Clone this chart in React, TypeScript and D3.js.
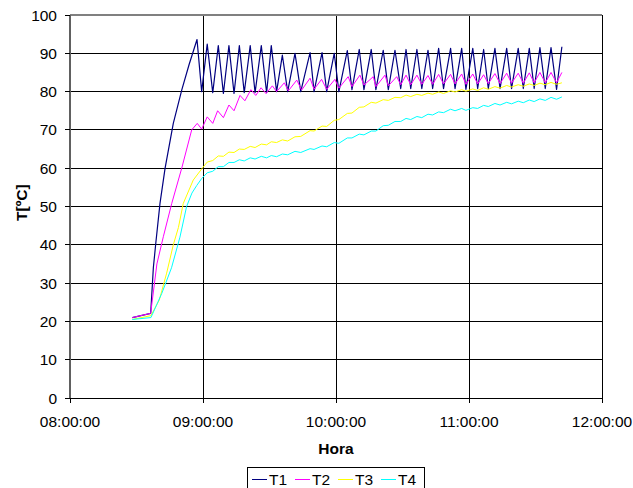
import React from "react";
import * as d3 from "d3";

// Time in minutes after 08:00:00, temperature in °C
const seriesNames = ["T1", "T2", "T3", "T4"];
const seriesColors = ["#000080", "#FF00FF", "#FFFF00", "#00FFFF"];

const xTickMinutes = [0, 60, 120, 180, 240];
const xTickLabels = ["08:00:00", "09:00:00", "10:00:00", "11:00:00", "12:00:00"];
const yTicks = [0, 10, 20, 30, 40, 50, 60, 70, 80, 90, 100];

const t1Time = [28.1, 36.4, 37.6, 38.7, 40.6, 42.9, 46.6, 50.4, 53.7, 57.3,
  59.4, 61.9, 64.4, 66.9, 69.2, 71.7, 74.0, 76.4, 78.6, 81.3, 83.5, 86.3, 88.7, 90.8, 93.2, 95.8, 98.2, 101.5, 104.1, 108.3,
  110.1, 113.7, 115.8, 119.2, 121.3, 125.1, 127.2, 130.5, 132.6, 135.9, 138.0, 141.3, 143.6, 146.6, 149.2, 151.6, 153.7, 156.5, 158.7, 161.5,
  163.6, 166.3, 168.5, 171.7, 173.7, 176.7, 178.6, 181.7, 183.9, 186.6, 188.7, 191.7, 194.0, 197.0, 199.2, 202.2, 204.5, 207.2, 209.4, 212.0,
  214.4, 217.0, 219.5, 221.9];
const t1Value = [21.0, 22.1, 34.0, 40.4, 50.8, 60.0, 71.7, 80.4, 87.0, 93.6,
  80.0, 92.4, 79.7, 92.0, 79.5, 92.0, 79.5, 92.0, 79.7, 92.0, 79.7, 92.0, 79.7, 92.0, 80.0, 89.5, 80.0, 90.0, 80.0, 90.2,
  80.0, 90.2, 80.0, 90.0, 80.0, 90.7, 80.5, 91.0, 80.5, 91.0, 80.5, 90.8, 80.5, 90.8, 80.8, 91.0, 80.8, 91.0, 80.8, 90.8,
  80.8, 91.3, 80.8, 91.3, 80.8, 91.3, 80.6, 91.3, 80.8, 91.0, 80.8, 91.3, 80.8, 91.3, 80.8, 91.3, 80.8, 91.3, 80.8, 91.5,
  80.8, 91.5, 80.6, 91.7];

const t2Time = [28.1, 36.4, 39.2, 42.1, 45.9, 50.4, 54.9, 57.4, 59.4, 61.9, 64.4, 66.6, 69.2, 71.7, 74.0, 76.7, 78.9, 81.6,
  83.8, 86.2, 88.4, 91.3, 93.2, 96.7, 98.5, 102.3, 104.5, 108.3, 110.1, 113.5, 115.8, 119.5, 121.3, 125.5, 127.2, 130.8,
  132.6, 136.8, 138.0, 142.1, 143.6, 147.4, 149.2, 151.6, 153.7, 156.5, 158.7, 161.5, 163.6, 166.3, 168.5, 171.7, 173.7,
  176.7, 178.6, 181.7, 183.9, 186.6, 188.7, 191.7, 194.0, 197.0, 199.2, 202.2, 204.5, 207.2, 209.4, 212.0, 214.4, 217.0,
  219.5, 221.9];
const t2Value = [21.0, 22.1, 35.0, 42.1, 50.8, 60.0, 70.0, 71.7, 70.2, 73.4, 71.7, 75.0, 73.2, 76.5, 75.0, 79.0, 77.6, 80.5,
  79.0, 81.0, 79.5, 81.5, 80.0, 82.3, 80.2, 83.0, 80.4, 83.5, 80.6, 83.2, 80.6, 83.2, 80.9, 83.9, 81.3, 84.3,
  81.7, 83.9, 81.3, 84.3, 81.5, 83.9, 81.8, 84.3, 81.8, 84.3, 81.9, 84.2, 81.9, 84.5, 82.0, 84.5, 82.0,
  84.6, 81.9, 84.6, 82.0, 84.4, 82.1, 84.7, 82.1, 84.8, 82.2, 84.8, 82.2, 84.9, 82.3, 85.0, 82.3, 85.0,
  82.3, 85.0];

const t3Time = [28.1, 36.5, 40.3, 43.6, 46.6, 48.9, 51.1, 55.6,
  59.4, 61.9, 64.4, 66.9, 69.2, 71.7, 74.0, 76.4, 78.6, 81.3, 83.5, 86.3, 88.7, 90.8, 93.2, 95.8, 98.2, 101.5, 104.1, 108.3,
  110.1, 113.7, 115.8, 119.2, 121.3, 125.1, 127.2, 130.5, 132.6, 135.9, 138.0, 141.3, 143.6, 146.6, 149.2, 151.6, 153.7, 156.5, 158.7, 161.5,
  163.6, 166.3, 168.5, 171.7, 173.7, 176.7, 178.6, 181.7, 183.9, 186.6, 188.7, 191.7, 194.0, 197.0, 199.2, 202.2, 204.5, 207.2, 209.4, 212.0,
  214.4, 217.0, 219.5, 221.9];
const t3Value = [20.5, 21.5, 25.6, 32.6, 40.0, 44.5, 50.8, 56.9,
  59.8, 61.6, 62.0, 63.2, 63.1, 64.2, 64.1, 65.0, 64.9, 65.7, 65.4, 66.3, 66.1, 66.9, 66.7, 67.4, 67.1, 68.2, 68.3, 69.8,
  69.7, 71.0, 70.9, 72.5, 72.7, 74.3, 74.4, 75.9, 76.0, 77.2, 77.0, 77.9, 77.7, 78.5, 78.4, 79.1, 78.7, 79.3, 79.0, 79.6,
  79.3, 79.9, 79.5, 80.2, 79.9, 80.5, 80.1, 80.7, 80.3, 81.0, 80.6, 81.3, 80.9, 81.6, 81.2, 81.8, 81.4, 82.0, 81.6, 82.2,
  81.8, 82.4, 81.9, 82.3];

const t4Time = [28.1, 36.5, 41.4, 45.8, 49.6, 52.6, 55.0, 57.2,
  59.4, 61.9, 64.4, 66.9, 69.2, 71.7, 74.0, 76.4, 78.6, 81.3, 83.5, 86.3, 88.7, 90.8, 93.2, 95.8, 98.2, 101.5, 104.1, 108.3,
  110.1, 113.7, 115.8, 119.2, 121.3, 125.1, 127.2, 130.5, 132.6, 135.9, 138.0, 141.3, 143.6, 146.6, 149.2, 151.6, 153.7, 156.5, 158.7, 161.5,
  163.6, 166.3, 168.5, 171.7, 173.7, 176.7, 178.6, 181.7, 183.9, 186.6, 188.7, 191.7, 194.0, 197.0, 199.2, 202.2, 204.5, 207.2, 209.4, 212.0,
  214.4, 217.0, 219.5, 221.9];
const t4Value = [20.5, 21.0, 27.3, 34.0, 42.0, 50.0, 53.5, 55.5,
  57.3, 58.8, 59.2, 60.4, 60.4, 61.5, 61.5, 62.2, 61.9, 62.7, 62.4, 63.1, 62.7, 63.3, 63.0, 63.7, 63.5, 64.4, 64.1, 65.1,
  64.9, 65.8, 65.6, 66.7, 66.5, 67.9, 67.9, 68.9, 68.7, 69.7, 69.7, 71.1, 71.2, 72.2, 72.2, 73.0, 72.7, 73.5, 73.2, 74.1,
  73.9, 74.7, 74.5, 75.4, 75.0, 75.6, 75.1, 75.8, 75.6, 76.4, 76.1, 76.9, 76.5, 77.2, 76.8, 77.5, 77.1, 77.8, 77.4, 78.1,
  77.7, 78.5, 78.0, 78.6];

const seriesTimes = [t1Time, t2Time, t3Time, t4Time];
const seriesValues = [t1Value, t2Value, t3Value, t4Value];

const W = 633;
const H = 488;
const FONT = "'Liberation Sans', Arial, sans-serif";
const FS = 15.5;

export default function App() {
  const x = d3.scaleLinear().domain([0, 240]).range([70, 602]);
  const y = d3.scaleLinear().domain([0, 100]).range([398, 15]);
  const line = d3
    .line<[number, number]>()
    .x((d) => x(d[0]))
    .y((d) => y(d[1]));

  const legendX = 247;
  const legendY = 467;
  const legendW = 177;
  const itemW = 43;

  return (
    <svg
      width={W}
      height={H}
      style={{ position: "absolute", left: 0, top: 0, background: "#fff" }}
      fontFamily={FONT}
    >
      <rect x={0} y={0} width={W} height={H} fill="#fff" />
      {yTicks.map((t) => (
        <line key={"h" + t} x1={x(0)} x2={x(240)} y1={y(t)} y2={y(t)} stroke="#000" strokeWidth={1} shapeRendering="crispEdges" />
      ))}
      {xTickMinutes.map((t) => (
        <line key={"v" + t} x1={x(t)} x2={x(t)} y1={y(0)} y2={y(100)} stroke="#000" strokeWidth={1} shapeRendering="crispEdges" />
      ))}
      <line x1={x(0)} x2={x(240)} y1={y(100)} y2={y(100)} stroke="#808080" strokeWidth={2} />
      <line x1={x(0)} x2={x(0)} y1={y(100)} y2={y(0)} stroke="#606060" strokeWidth={2} />
      {yTicks.map((t) => (
        <g key={"yt" + t}>
          <line x1={x(0) - 5} x2={x(0)} y1={y(t)} y2={y(t)} stroke="#000" strokeWidth={1} shapeRendering="crispEdges" />
          <text x={57} y={y(t)} dy="0.36em" textAnchor="end" fontSize={FS} fill="#000">
            {t}
          </text>
        </g>
      ))}
      <line x1={x(0)} x2={x(240)} y1={y(0)} y2={y(0)} stroke="#000" strokeWidth={1} shapeRendering="crispEdges" />
      {xTickMinutes.map((t, i) => (
        <g key={"xt" + t}>
          <line x1={x(t)} x2={x(t)} y1={y(0)} y2={y(0) + 5} stroke="#000" strokeWidth={1} shapeRendering="crispEdges" />
          <text x={x(t)} y={421} dy="0.36em" textAnchor="middle" fontSize={FS} fill="#000">
            {xTickLabels[i]}
          </text>
        </g>
      ))}
      {seriesNames.map((name, i) => {
        const pts: [number, number][] = seriesTimes[i].map((tm, j) => [tm, seriesValues[i][j]]);
        return (
          <path key={name} d={line(pts) || ""} fill="none" stroke={seriesColors[i]} strokeWidth={i === 0 ? 1.2 : 1} strokeLinejoin="round" />
        );
      })}
      <text x={336} y={448} dy="0.36em" textAnchor="middle" fontSize={FS} fontWeight="bold" fill="#000">
        Hora
      </text>
      <text
        transform={`translate(21, ${y(51)}) rotate(-90)`}
        textAnchor="middle"
        dy="0.36em"
        fontSize={FS}
        fontWeight="bold"
        fill="#000"
      >
        T[ºC]
      </text>
      <rect x={legendX + 0.5} y={legendY + 0.5} width={legendW} height={30} fill="#fff" stroke="#000" strokeWidth={1} />
      {seriesNames.map((name, i) => {
        const lx = legendX + 5 + i * itemW;
        return (
          <g key={"lg" + name}>
            <line x1={lx} x2={lx + 15} y1={479.5} y2={479.5} stroke={seriesColors[i]} strokeWidth={1} />
            <text x={lx + 17} y={479} dy="0.36em" fontSize={FS} fill="#000">
              {name}
            </text>
          </g>
        );
      })}
    </svg>
  );
}
